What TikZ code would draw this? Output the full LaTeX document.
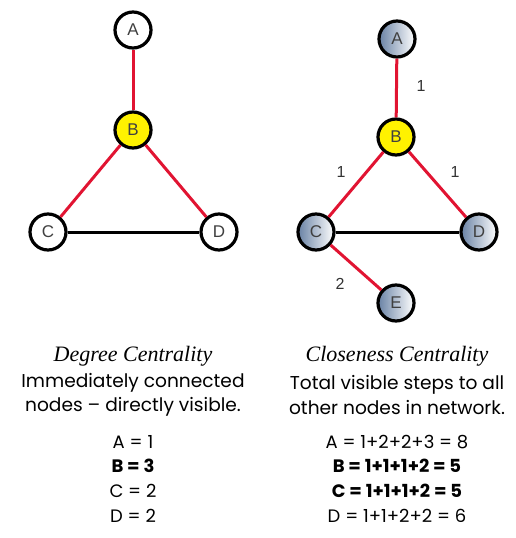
\documentclass[tikz,border=0pt]{standalone}
\usepackage{fontspec}
\setmainfont{Poppins}
\newfontfamily\titlefont{Liberation Serif}
\newfontfamily\nodefont{Liberation Sans}
\definecolor{nodeblue}{RGB}{105,130,165}
\definecolor{edgered}{RGB}{225,20,50}
\begin{document}
\begin{tikzpicture}[x=1pt,y=-1pt,
  vert/.style={circle,draw=black,line width=3.2pt,minimum size=36pt,inner sep=0pt,font=\nodefont\fontsize{17}{17}\selectfont,text=black!75},
  plainv/.style={vert,fill=white},
  shadev/.style={vert,left color=nodeblue,right color=white},
  hub/.style={vert,fill=yellow},
  redge/.style={draw=edgered,line width=3pt},
  bedge/.style={draw=black,line width=3pt},
  wlab/.style={font=\nodefont\fontsize{16}{16}\selectfont,text=black!80},
  title/.style={font=\titlefont\itshape\fontsize{22}{22}\selectfont},
  body/.style={font=\fontsize{18.6}{24.5}\selectfont,align=center},
  eq/.style={font=\fontsize{18}{18}\selectfont}
]
\useasboundingbox (0,0) rectangle (515,538);
% left graph
\node[plainv] (la) at (133,30) {A};
\node[hub] (lb) at (133,130) {B};
\node[plainv] (lc) at (48,232) {C};
\node[plainv] (ld) at (219,232) {D};
\path[redge] (la) -- (lb);
\path[redge] (lb) -- (lc);
\path[redge] (lb) -- (ld);
\path[bedge] (lc) -- (ld);
% right graph
\node[shadev] (ra) at (397,39) {A};
\node[hub] (rb) at (396,137) {B};
\node[shadev] (rc) at (316,232) {C};
\node[shadev] (rd) at (479,232) {D};
\node[shadev] (re) at (396,303) {E};
\path[redge] (ra) -- (rb);
\path[redge] (rb) -- (rc);
\path[redge] (rb) -- (rd);
\path[redge] (rc) -- (re);
\path[bedge] (rc) -- (rd);
\node[wlab] (l1) at (421,86) {1};
\node[wlab] (l2) at (341,172) {1};
\node[wlab] (l3) at (455,172) {1};
\node[wlab] (l4) at (340,284) {2};
% texts
\node[title] (t1) at (133,356) {Degree Centrality};
\node[body] (d1) at (133,395) {Immediately connected\\nodes – directly visible.};
\node[eq] (e1) at (133,442) {A = 1};
\node[eq] (e2) at (133,466) {\bfseries B = 3};
\node[eq] (e3) at (133,491) {C = 2};
\node[eq] (e4) at (133,516) {D = 2};
\node[title] (t2) at (397,356) {Closeness Centrality};
\node[body] (d2) at (397,395) {Total visible steps to all\\other nodes in network.};
\node[eq] (f1) at (397,442) {A = 1+2+2+3 = 8};
\node[eq] (f2) at (397,466) {\bfseries B = 1+1+1+2 = 5};
\node[eq] (f3) at (397,491) {\bfseries C = 1+1+1+2 = 5};
\node[eq] (f4) at (397,516) {D = 1+1+2+2 = 6};
\end{tikzpicture}
\end{document}
